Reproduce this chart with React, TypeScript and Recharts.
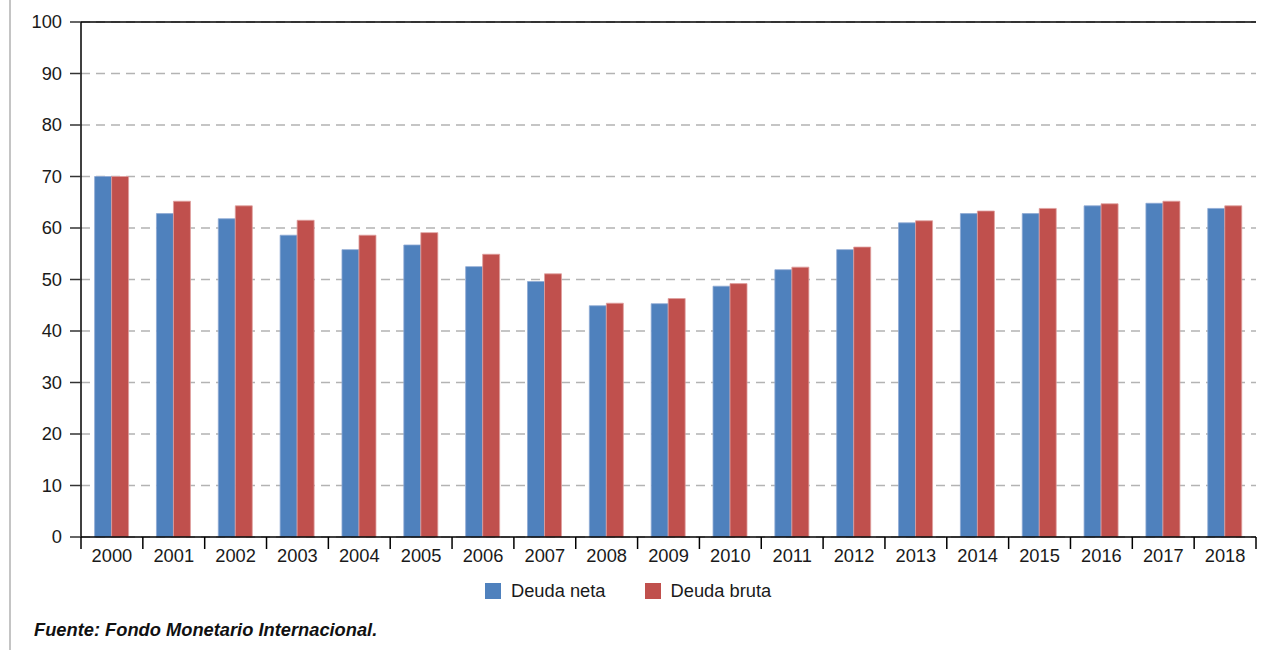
import React from 'react';
import { BarChart, Bar, XAxis, YAxis, CartesianGrid, ReferenceLine, Legend } from 'recharts';

const years = ['2000','2001','2002','2003','2004','2005','2006','2007','2008','2009','2010','2011','2012','2013','2014','2015','2016','2017','2018'];
const deudaNeta = [70, 62.8, 61.8, 58.6, 55.8, 56.7, 52.5, 49.6, 44.9, 45.3, 48.7, 51.9, 55.8, 61.0, 62.8, 62.8, 64.3, 64.8, 63.8];
const deudaBruta = [70, 65.2, 64.3, 61.5, 58.6, 59.1, 54.9, 51.1, 45.4, 46.3, 49.2, 52.4, 56.3, 61.4, 63.3, 63.8, 64.7, 65.2, 64.3];
const yTicks = [0, 10, 20, 30, 40, 50, 60, 70, 80, 90, 100];
const seriesNames = ['Deuda neta', 'Deuda bruta'];
const sourceText = 'Fuente: Fondo Monetario Internacional.';

const BLUE = '#4f81bd';
const RED = '#c0504d';
const FONT = '"Liberation Sans", Arial, Helvetica, sans-serif';
const FS = 18.3;

const data = years.map((y, i) => ({ year: y, neta: deudaNeta[i], bruta: deudaBruta[i] }));

const YearTick = (props: any) => {
  const { x, y, payload, index, visibleTicksCount } = props;
  const half = payload.offset || 0;
  const isLast = index === visibleTicksCount - 1;
  return (
    <g>
      <line x1={x - half} x2={x - half} y1={y - 12} y2={y} stroke="#000" strokeWidth={1.5} />
      {isLast && <line x1={x + half} x2={x + half} y1={y - 12} y2={y} stroke="#000" strokeWidth={1.5} />}
      <text x={x} y={y} dy="0.71em" textAnchor="middle" fontSize={FS} fill="#1a1a1a" fontFamily={FONT}>
        {payload.value}
      </text>
    </g>
  );
};

const LegendContent = () => (
  <div style={{ display: 'flex', alignItems: 'center', fontFamily: FONT, fontSize: FS, color: '#1a1a1a', whiteSpace: 'nowrap' }}>
    <span style={{ width: 16, height: 16, background: BLUE, display: 'inline-block', marginRight: 10 }} />
    <span style={{ marginRight: 39 }}>{seriesNames[0]}</span>
    <span style={{ width: 16, height: 16, background: RED, display: 'inline-block', marginRight: 10 }} />
    <span>{seriesNames[1]}</span>
  </div>
);

export default function App() {
  return (
    <div style={{ position: 'absolute', left: 0, top: 0, width: 1266, height: 650, background: '#fff', overflow: 'hidden' }}>
      <div style={{ position: 'absolute', left: 9, top: 0, width: 2, height: 650, background: '#c4c4c4' }} />
      <BarChart
        width={1266}
        height={650}
        data={data}
        margin={{ top: 22, right: 10, left: 0, bottom: 83 }}
        barCategoryGap="22%"
        barGap={0}
        style={{ fontFamily: FONT }}
      >
        <CartesianGrid yAxisId="left" vertical={false} stroke="#b3b3b3" strokeWidth={1.5} strokeDasharray="9 6" />
        <XAxis
          dataKey="year"
          axisLine={{ stroke: '#000', strokeWidth: 1.5 }}
          tickLine={false}
          tickSize={0}
          tickMargin={12}
          height={30}
          interval={0}
          tick={<YearTick />}
        />
        <YAxis
          yAxisId="left"
          domain={[0, 100]}
          ticks={yTicks}
          width={81}
          axisLine={{ stroke: '#000', strokeWidth: 1.5 }}
          tickLine={{ stroke: '#333', strokeWidth: 1.5 }}
          tickSize={11}
          tickMargin={8}
          interval={0}
          tick={{ fontSize: FS, fill: '#1a1a1a', fontFamily: FONT }}
        />
        <YAxis
          yAxisId="right"
          orientation="right"
          domain={[0, 100]}
          width={0}
          tick={false}
          tickLine={false}
          axisLine={{ stroke: '#000', strokeWidth: 1.5 }}
        />
        <ReferenceLine yAxisId="left" y={100} stroke="#000" strokeWidth={1.5} />
        <Legend
          verticalAlign="middle"
          layout="horizontal"
          content={<LegendContent />}
          wrapperStyle={{ position: 'absolute', top: 580, left: 485, width: 'auto' }}
        />
        <Bar yAxisId="left" dataKey="neta" name={seriesNames[0]} fill={BLUE} stroke="#8eaad4" strokeWidth={0.8} isAnimationActive={false} />
        <Bar yAxisId="left" dataKey="bruta" name={seriesNames[1]} fill={RED} stroke="#e0a09e" strokeWidth={0.8} isAnimationActive={false} />
      </BarChart>
      <div style={{ position: 'absolute', left: 34, top: 620, fontFamily: FONT, fontSize: FS, fontWeight: 'bold', fontStyle: 'italic', color: '#111', lineHeight: '20px', whiteSpace: 'nowrap' }}>
        {sourceText}
      </div>
    </div>
  );
}
